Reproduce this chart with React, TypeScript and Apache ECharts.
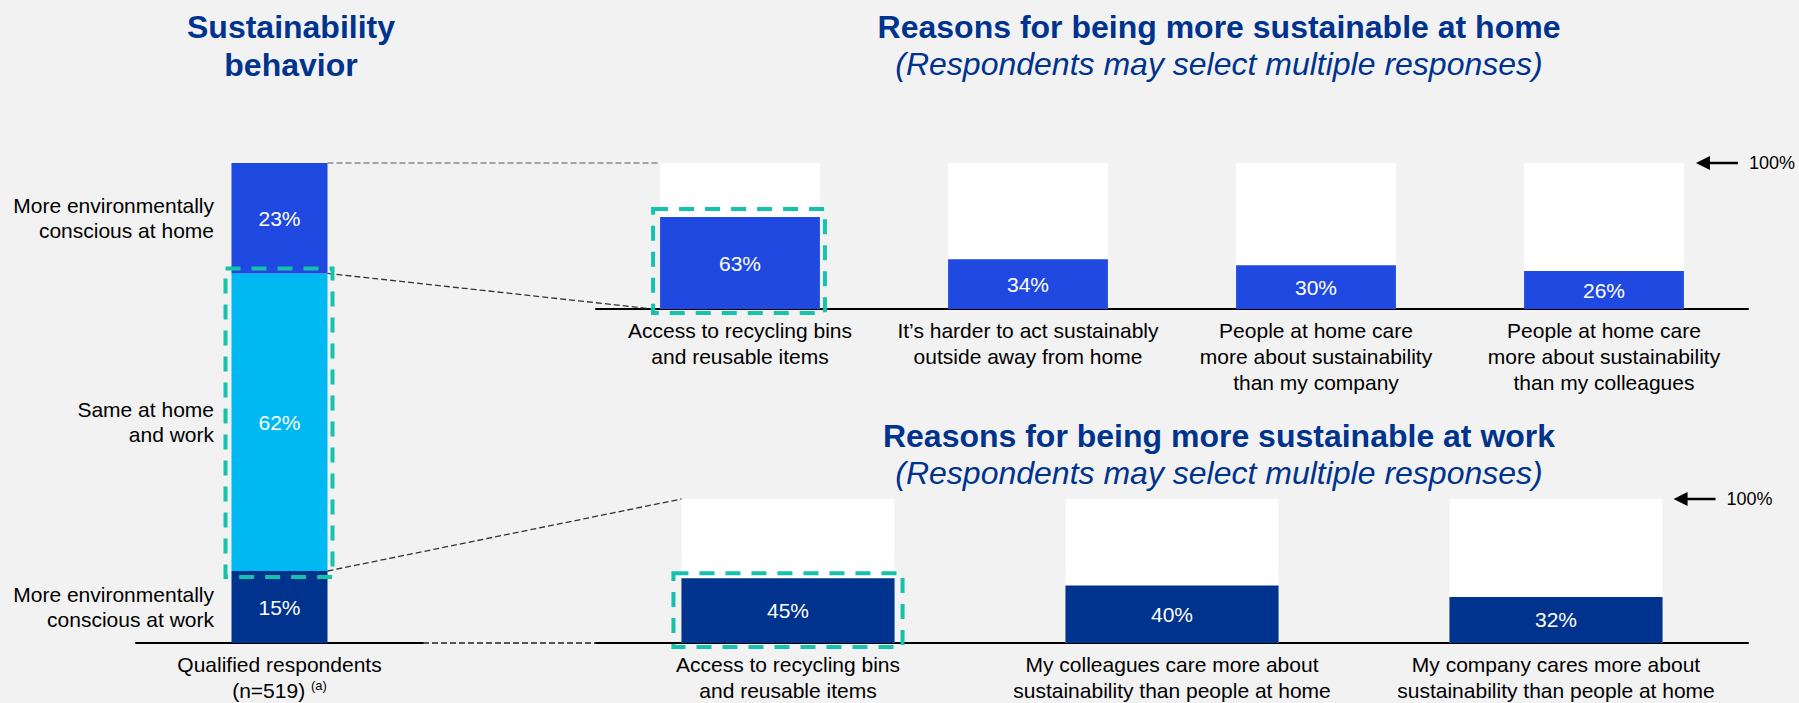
import React, { useEffect, useRef } from "react";
import * as echarts from "echarts";

const FONT = "Arial, 'Liberation Sans', Helvetica, sans-serif";

// ---- data ----
const behaviorTitle = "Sustainability\nbehavior";
const behaviorCategory = ["Qualified respondents\n(n=519) {sup|(a)}"];
const behaviorSegments = [
  "More environmentally\nconscious at work",
  "Same at home\nand work",
  "More environmentally\nconscious at home",
];
const behaviorValues = [15, 62, 23];

const homeTitle = "Reasons for being more sustainable at home";
const workTitle = "Reasons for being more sustainable at work";
const subTitle = "(Respondents may select multiple responses)";

const homeCategories = [
  "Access to recycling bins\nand reusable items",
  "It\u2019s harder to act sustainably\noutside away from home",
  "People at home care\nmore about sustainability\nthan my company",
  "People at home care\nmore about sustainability\nthan my colleagues",
];
const homeValues = [63, 34, 30, 26];

const workCategories = [
  "Access to recycling bins\nand reusable items",
  "My colleagues care more about\nsustainability than people at home",
  "My company cares more about\nsustainability than people at home",
];
const workValues = [45, 40, 32];

const scaleMax = 100;
const scaleLabel = "100%";

// ---- styles ----
const NAVY = "#00338D";
const BRIGHT = "#1F49E1";
const CYAN = "#00B9F2";
const TEAL = "#14C2AE";
const BG = "#F2F2F2";
const behaviorColors = [NAVY, CYAN, BRIGHT];
const BAR_W = "55.5%";
const LEFT_BAR_W = 96;

export default function App() {
  const ref = useRef<HTMLDivElement>(null);

  useEffect(() => {
    if (!ref.current) return;
    const chart = echarts.init(ref.current, null, { renderer: "svg" });

    const axisLabelBase: any = {
      interval: 0,
      fontSize: 21,
      lineHeight: 26,
      color: "#000",
      margin: 8,
      fontFamily: FONT,
    };
    const xAxisBase: any = {
      type: "category",
      axisLine: { show: true, lineStyle: { color: "#000", width: 2 } },
      axisTick: { show: false },
      splitLine: { show: false },
    };
    const yAxisBase: any = { type: "value", min: 0, max: scaleMax, show: false };
    const valueLabel: any = {
      show: true,
      position: "inside",
      formatter: "{c}%",
      color: "#fff",
      fontSize: 21,
      fontFamily: FONT,
    };

    const option: any = {
      animation: false,
      backgroundColor: BG,
      textStyle: { fontFamily: FONT },
      grid: [
        { left: 136, top: 163, width: 287, height: 482 },
        { left: 596, top: 163, width: 1152, height: 146 },
        { left: 596, top: 499, width: 1152, height: 146 },
      ],
      xAxis: [
        {
          ...xAxisBase,
          gridIndex: 0,
          data: behaviorCategory,
          axisLabel: {
            ...axisLabelBase,
            rich: {
              sup: { fontSize: 13, color: "#000", fontFamily: FONT, padding: [0, 0, 10, 0] },
            },
          },
        },
        { ...xAxisBase, gridIndex: 1, data: homeCategories, axisLabel: axisLabelBase },
        { ...xAxisBase, gridIndex: 2, data: workCategories, axisLabel: axisLabelBase },
      ],
      yAxis: [
        { ...yAxisBase, gridIndex: 0 },
        { ...yAxisBase, gridIndex: 1 },
        { ...yAxisBase, gridIndex: 2 },
      ],
      series: [
        ...behaviorValues.map((v, i) => ({
          type: "bar",
          name: behaviorSegments[i],
          xAxisIndex: 0,
          yAxisIndex: 0,
          stack: "behavior",
          barWidth: LEFT_BAR_W,
          data: [v],
          itemStyle: { color: behaviorColors[i] },
          label: valueLabel,
        })),
        {
          type: "bar",
          xAxisIndex: 1,
          yAxisIndex: 1,
          silent: true,
          barWidth: BAR_W,
          barGap: "-100%",
          data: homeCategories.map(() => scaleMax),
          itemStyle: { color: "#fff" },
        },
        {
          type: "bar",
          xAxisIndex: 1,
          yAxisIndex: 1,
          barWidth: BAR_W,
          barGap: "-100%",
          data: homeValues,
          itemStyle: { color: BRIGHT },
          label: valueLabel,
        },
        {
          type: "bar",
          xAxisIndex: 2,
          yAxisIndex: 2,
          silent: true,
          barWidth: BAR_W,
          barGap: "-100%",
          data: workCategories.map(() => scaleMax),
          itemStyle: { color: "#fff" },
        },
        {
          type: "bar",
          xAxisIndex: 2,
          yAxisIndex: 2,
          barWidth: BAR_W,
          barGap: "-100%",
          data: workValues,
          itemStyle: { color: NAVY },
          label: valueLabel,
        },
      ],
    };

    chart.setOption(option);

    // ---- decorations positioned from the chart's own scales ----
    const P = (g: number, x: number, y: number) =>
      chart.convertToPixel({ gridIndex: g } as any, [x, y]) as number[];

    const lHalf = LEFT_BAR_W / 2;
    const [lcx, leftTop] = P(0, 0, scaleMax);
    const leftBase = P(0, 0, 0)[1];
    const sameBottom = P(0, 0, behaviorValues[0])[1];
    const sameTop = P(0, 0, behaviorValues[0] + behaviorValues[1])[1];
    const leftRight = lcx + lHalf;
    const leftGridRight = 136 + 287;

    const hBand = P(1, 1, 0)[0] - P(1, 0, 0)[0];
    const hHalf = (hBand * 0.555) / 2;
    const [h0x, homeTop] = P(1, 0, scaleMax);
    const homeBase = P(1, 0, 0)[1];
    const h0Top = P(1, 0, homeValues[0])[1];
    const hLastRight = P(1, homeValues.length - 1, 0)[0] + hHalf;

    const wBand = P(2, 1, 0)[0] - P(2, 0, 0)[0];
    const wHalf = (wBand * 0.555) / 2;
    const [w0x, workTop] = P(2, 0, scaleMax);
    const workBase = P(2, 0, 0)[1];
    const w0Top = P(2, 0, workValues[0])[1];
    const wLastRight = P(2, workValues.length - 1, 0)[0] + wHalf;
    const workGridLeft = 596;

    // segment labels to the left of the stacked bar (at each segment's midpoint)
    const segmentLabels: any[] = [];
    let acc = 0;
    behaviorValues.forEach((v, i) => {
      const midY = P(0, 0, acc + v / 2)[1];
      acc += v;
      segmentLabels.push({
        type: "text",
        silent: true,
        x: lcx - lHalf - 17.5,
        y: midY,
        style: {
          text: behaviorSegments[i],
          fill: "#000",
          fontSize: 21,
          fontFamily: FONT,
          lineHeight: 25,
          align: "right",
          verticalAlign: "middle",
        },
      });
    });

    const tealBox = (x0: number, x1: number, y0: number, y1: number, pl: number, pr: number, pt: number, pb: number) => ({
      type: "rect",
      z: 100,
      silent: true,
      shape: { x: x0 - pl, y: y0 - pt, width: x1 - x0 + pl + pr, height: y1 - y0 + pt + pb },
      style: { fill: "none", stroke: TEAL, lineWidth: 4, lineDash: [15, 11] },
    });
    const dashLine = (x1: number, y1: number, x2: number, y2: number, stroke = "#333", lw = 1.3) => ({
      type: "line",
      z: 90,
      silent: true,
      shape: { x1, y1, x2, y2 },
      style: { stroke, lineWidth: lw, lineDash: [6, 3] },
    });
    const arrow = (tipX: number, y: number) => [
      {
        type: "polygon",
        z: 100,
        silent: true,
        shape: { points: [[tipX, y], [tipX + 14, y - 7], [tipX + 14, y + 7]] },
        style: { fill: "#000" },
      },
      {
        type: "line",
        z: 100,
        silent: true,
        shape: { x1: tipX + 10, y1: y, x2: tipX + 42, y2: y },
        style: { stroke: "#000", lineWidth: 2.5 },
      },
      {
        type: "text",
        z: 100,
        silent: true,
        x: tipX + 53,
        y,
        style: {
          text: scaleLabel,
          fill: "#000",
          fontSize: 18,
          fontFamily: FONT,
          align: "left",
          verticalAlign: "middle",
        },
      },
    ];
    const titleText = (text: string, x: number, y: number, bold: boolean, italic: boolean, lh = 38.5) => ({
      type: "text",
      silent: true,
      x,
      y,
      style: {
        text,
        fill: NAVY,
        fontSize: 32,
        fontWeight: bold ? "bold" : "normal",
        fontStyle: italic ? "italic" : "normal",
        fontFamily: FONT,
        align: "center",
        verticalAlign: "middle",
        lineHeight: lh,
      },
    });

    const graphics: any[] = [
      titleText(behaviorTitle, 291, 46, true, false),
      titleText(homeTitle, 1219, 27, true, false),
      titleText(subTitle, 1219, 64, false, true),
      titleText(workTitle, 1219, 436, true, false),
      titleText(subTitle, 1219, 473, false, true),
      ...segmentLabels,
      // connectors
      dashLine(leftRight, leftTop, h0x - hHalf, homeTop, "#8a8a8a", 1.6),
      dashLine(leftRight, sameTop, h0x - hHalf - 7, homeBase),
      dashLine(leftRight, sameBottom, w0x - wHalf, workTop),
      dashLine(leftGridRight, leftBase, workGridLeft, workBase, "#222", 1.5),
      // highlight boxes
      tealBox(lcx - lHalf, lcx + lHalf, sameTop, sameBottom, 6, 5, 5, 6),
      tealBox(h0x - hHalf, h0x + hHalf, h0Top, homeBase, 7, 5, 8, 4),
      tealBox(w0x - wHalf, w0x + wHalf, w0Top, workBase, 8, 8, 5, 4),
      // 100% markers
      ...arrow(hLastRight + 12, homeTop),
      ...arrow(wLastRight + 11, workTop),
    ];

    chart.setOption({ graphic: graphics });

    return () => chart.dispose();
  }, []);

  return (
    <div
      ref={ref}
      style={{ position: "fixed", left: 0, top: 0, width: 1799, height: 703, background: BG }}
    />
  );
}
